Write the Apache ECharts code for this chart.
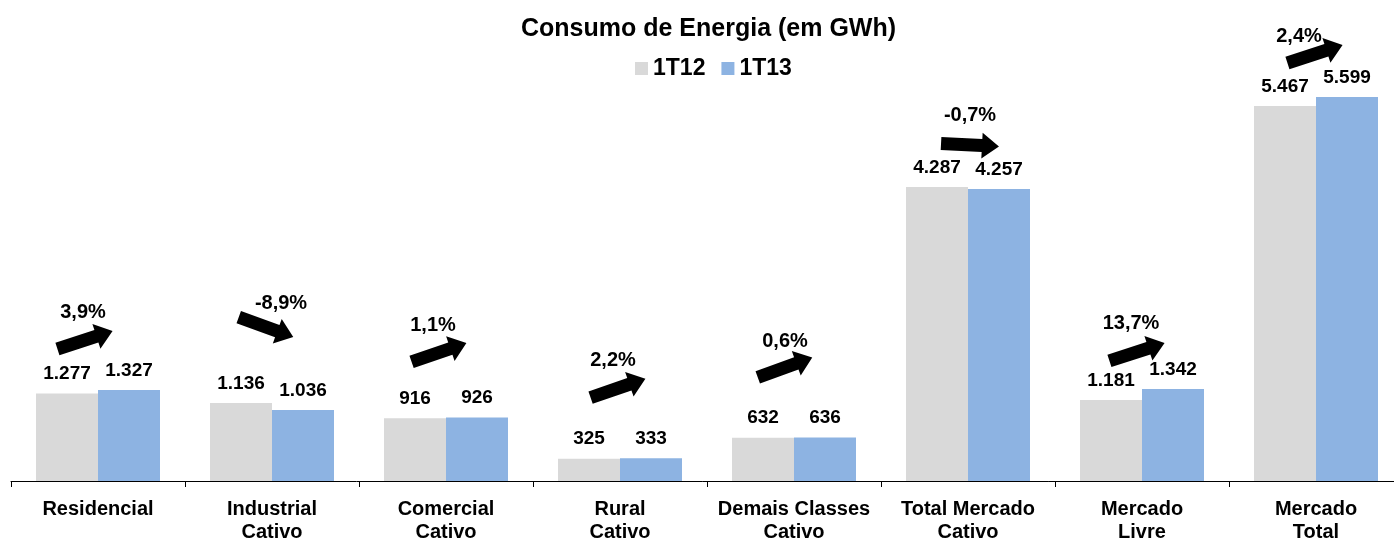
<!DOCTYPE html>
<html>
<head>
<meta charset="utf-8">
<script src="https://cdn.jsdelivr.net/npm/echarts@6/dist/echarts.min.js"></script>
<style>html,body{margin:0;padding:0;background:#fff}#c{width:1394px;height:540px}</style>
</head>
<body>
<div id="c"></div>
<script>
// ---- data ----
const categories = ['Residencial', 'Industrial\nCativo', 'Comercial\nCativo', 'Rural\nCativo',
  'Demais Classes\nCativo', 'Total Mercado\nCativo', 'Mercado\nLivre', 'Mercado\nTotal'];
const values1T12 = [1277, 1136, 916, 325, 632, 4287, 1181, 5467];
const values1T13 = [1327, 1036, 926, 333, 636, 4257, 1342, 5599];
const changeLabels = ['3,9%', '-8,9%', '1,1%', '2,2%', '0,6%', '-0,7%', '13,7%', '2,4%'];
const arrowAngles = [18, -20, 19, 19, 20, -3, 18, 18];

// ---- layout of annotations (px offsets from top of the taller bar) ----
const arrowOffsets = [[-13, -50], [-6, -76], [-7, -65], [-2, -70], [-9, -70], [2, -42], [-5, -37], [-1, -43]];
const labelOffsets = [[-15, -78], [9, -100], [-13, -92], [-7, -98], [-9, -96], [2, -71], [-11, -65], [-17, -61]];

const fmt = v => String(v).replace(/\B(?=(\d{3})+(?!\d))/g, '.');
const FONT = '"Liberation Sans", Arial, sans-serif';
const arrowPath = 'path://M0,6.5 L41,6.5 L41,0 L58,13 L41,26 L41,19.5 L0,19.5 Z';

const anchor = categories.map((c, i) => Math.max(values1T12[i], values1T13[i]));

const chart = echarts.init(document.getElementById('c'));
chart.setOption({
  animation: false,
  backgroundColor: '#fff',
  title: {
    text: 'Consumo de Energia (em GWh)',
    left: 516, top: 12,
    textStyle: { fontFamily: FONT, fontSize: 25, fontWeight: 'bold', color: '#000' }
  },
  legend: {
    data: ['1T12', '1T13'],
    left: 630, top: 52,
    icon: 'rect', itemWidth: 13, itemHeight: 13, itemGap: 16,
    textStyle: { fontFamily: FONT, fontSize: 23, fontWeight: 'bold', color: '#000' }
  },
  grid: { left: 11, width: 1392, top: 69.5, bottom: 59, containLabel: false, outerBoundsMode: 'none' },
  xAxis: {
    type: 'category',
    data: categories,
    axisLine: { lineStyle: { color: '#000', width: 1 } },
    axisTick: { show: true, length: 6, lineStyle: { color: '#000' } },
    axisLabel: { interval: 0, margin: 17, fontFamily: FONT, fontSize: 20, fontWeight: 'bold', color: '#000', lineHeight: 23 }
  },
  yAxis: { type: 'value', min: 0, max: 6000, show: false, splitLine: { show: false } },
  series: [
    {
      name: '1T12', type: 'bar', data: values1T12, barWidth: 62, barGap: '0%',
      itemStyle: { color: '#D9D9D9' },
      label: { show: true, position: 'top', distance: 10, formatter: p => fmt(p.value),
        fontFamily: FONT, fontSize: 19, fontWeight: 'bold', color: '#000' }
    },
    {
      name: '1T13', type: 'bar', data: values1T13, barWidth: 62, barGap: '0%',
      itemStyle: { color: '#8DB3E2' },
      label: { show: true, position: 'top', distance: 10, formatter: p => fmt(p.value),
        fontFamily: FONT, fontSize: 19, fontWeight: 'bold', color: '#000' }
    },
    {
      name: 'arrows', type: 'scatter', silent: true,
      data: anchor.map((v, i) => ({
        value: [i, v],
        symbol: arrowPath, symbolSize: [58, 26],
        symbolRotate: arrowAngles[i],
        symbolOffset: arrowOffsets[i]
      })),
      itemStyle: { color: '#000', opacity: 1 },
      z: 5
    },
    {
      name: 'pct', type: 'scatter', silent: true,
      symbolSize: 0,
      itemStyle: { color: '#000', opacity: 1 },
      data: anchor.map((v, i) => ({
        value: [i, v],
        label: { offset: labelOffsets[i] }
      })),
      label: { show: true, position: 'inside', formatter: p => changeLabels[p.dataIndex],
        fontFamily: FONT, fontSize: 20, fontWeight: 'bold', color: '#000', textBorderWidth: 0 },
      z: 6
    }
  ]
});
</script>
</body>
</html>
